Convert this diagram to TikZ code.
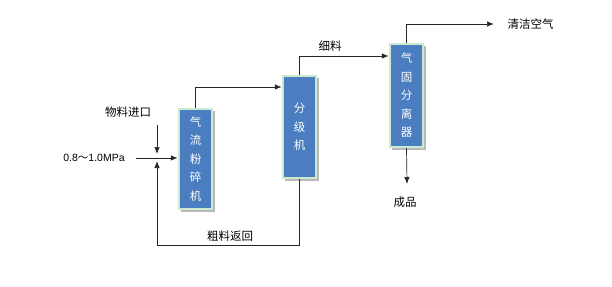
\documentclass[tikz,border=0pt]{standalone}
\usepackage{fontspec}
\setmainfont{Liberation Sans}
\newfontfamily\cjk{Noto Sans CJK SC}
\usepackage{tikz}
\usetikzlibrary{arrows.meta, positioning, calc}
\definecolor{unitblue}{RGB}{74, 126, 192}
\definecolor{unitrim}{RGB}{204, 232, 206}
\definecolor{unitshade}{RGB}{185, 185, 185}

\tikzset{
    unit/.style={draw=unitrim, line width=2.5pt, fill=unitblue, text=white,
        minimum width=33pt, inner sep=0pt, align=center,
        font=\cjk\fontsize{11.5}{18.5}\selectfont},
    line/.style={draw=black!85, line width=0.7pt},
    arr/.style={line, -{Latex[length=7pt, width=5.5pt]}},
    lbl/.style={font=\cjk\fontsize{11.5}{13}\selectfont}
}

\begin{document}
\begin{tikzpicture}[x=1pt, y=-1pt]
        \useasboundingbox (0,0) rectangle (612,286);
        % units
        \fill[unitshade] (181,111) rectangle (215,212);
        \node[unit, minimum height=100pt] (mill) at (195.5,159) {气\\流\\粉\\碎\\机};
        \fill[unitshade] (285,78) rectangle (319,181);
        \node[unit, minimum height=102pt] (sorter) at (299.5,127) {分\\级\\机};
        \fill[unitshade] (392,46) rectangle (426,150);
        \node[unit, minimum height=103pt] (cyclone) at (406.5,95.5) {气\\固\\分\\离\\器};

        % labels
        \node[lbl] (feed) at (128,112) {物料进口};
        \node[font=\fontsize{10.5}{12}\selectfont] (press) at (94,158) {0.8{\cjk ～}1.0MPa};
        \node[lbl] (fine) at (330,46) {细料};
        \node[lbl, anchor=west] (air) at (504,24) {清洁空气};
        \node[lbl] (product) at (405,202) {成品};
        \node[lbl] (coarse) at (230,236) {粗料返回};

        % connectors
        \coordinate (junc) at (157,158);
        \coordinate (inlet) at (157,125);
        \coordinate (loop) at (157,245);
        \draw[arr] (inlet) -- ($(junc)+(0,-4)$);
        \draw[arr] (sorter.south) |- (loop) -- ($(junc)+(0,3)$);
        \draw[arr] (press.east -| 136,0) -- (mill.west |- junc);
        \draw[arr] (mill.north) |- (sorter.west |- 0,87);
        \draw[arr] (sorter.north) |- (cyclone.west |- 0,56);
        \draw[arr, shorten >=10pt] (cyclone.north) |- (air.west);
        \draw[arr] (cyclone.south) -- (407,184);
    \end{tikzpicture}
\end{document}
